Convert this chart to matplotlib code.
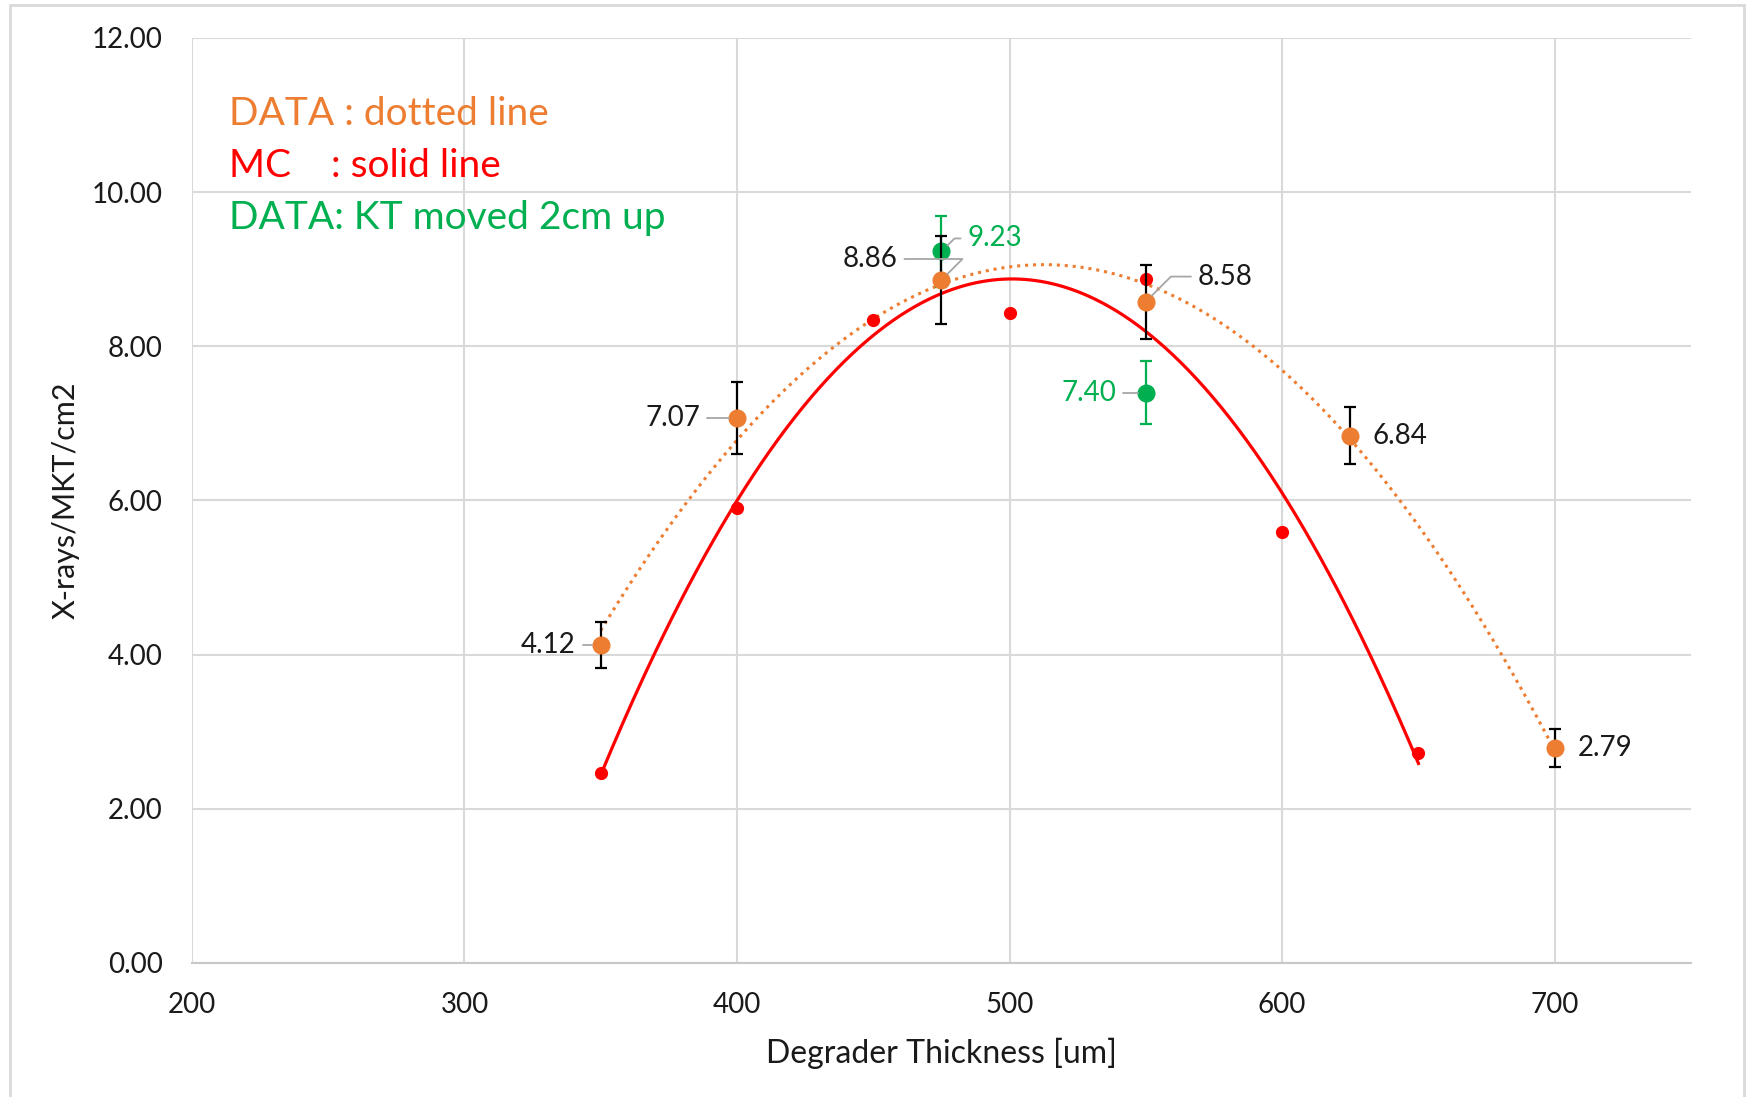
import numpy as np
import matplotlib.pyplot as plt
from matplotlib.patches import Rectangle

# Dati misurati (DATA) con errori
data_x = [350, 400, 475, 550, 625, 700]
data_y = [4.12, 7.07, 8.86, 8.58, 6.84, 2.79]
data_err = [0.30, 0.47, 0.57, 0.48, 0.37, 0.25]

# Simulazione Monte Carlo (MC)
mc_x = [350, 400, 450, 500, 550, 600, 650]
mc_y = [2.47, 5.90, 8.34, 8.43, 8.87, 5.59, 2.73]

# DATA con KT spostato di 2cm
kt_x = [475, 550]
kt_y = [9.23, 7.40]
kt_err = [0.46, 0.41]

# posizione delle etichette (offset in pixel) e leader line
label_offsets = [(-25, 0), (-37, 0), (-44, 21), (52, 25), (22, 0), (23, 0)]
label_leader = [True, True, True, True, False, False]
kt_offsets = [(26, 13), (-30, 0)]

ORANGE = '#ED7D31'
RED = '#FF0000'
GREEN = '#00B050'
GRID = '#D9D9D9'
TXT = '#1a1a1a'

plt.rcParams['font.family'] = ['Lato', 'DejaVu Sans']

fig = plt.figure(figsize=(17.48, 10.97), dpi=100)
ax = fig.add_axes([0.1098, 0.1222, 0.8576, 0.8432])

# bordo esterno del grafico
fig.patches.append(Rectangle((0.0057, -0.02), 0.9920, 1.0154, transform=fig.transFigure,
                             fill=False, edgecolor=GRID, linewidth=2))

ax.set_xlim(200, 750)
ax.set_ylim(0, 12)
ax.set_xticks(range(200, 701, 100))
ax.set_yticks(range(0, 13, 2))
ax.set_yticklabels([f'{v:.2f}' for v in range(0, 13, 2)])
ax.grid(True, color=GRID, linewidth=1.5, zorder=0)
for s in ['top', 'right', 'left']:
    ax.spines[s].set_visible(False)
ax.spines['bottom'].set_color('#C8C8C8')
ax.spines['bottom'].set_linewidth(1.5)
ax.tick_params(length=0, labelsize=20, labelcolor=TXT)
ax.tick_params(axis='y', pad=21)
ax.tick_params(axis='x', pad=21)
ax.set_axisbelow(True)

ax.set_xlabel('Degrader Thickness [um]', fontsize=23, color=TXT, labelpad=14)
ax.set_ylabel('X-rays/MKT/cm2', fontsize=22, color=TXT, labelpad=9)

# trendline polinomiali (ordine 2)
xs = np.linspace(min(mc_x), max(mc_x), 300)
ax.plot(xs, np.polyval(np.polyfit(mc_x, mc_y, 2), xs), color=RED, lw=2.3, zorder=3)
xs = np.linspace(min(data_x), max(data_x), 300)
ax.plot(xs, np.polyval(np.polyfit(data_x, data_y, 2), xs), color=ORANGE, lw=2.2,
        linestyle=(0, (1, 1.6)), zorder=3)

ax.plot(mc_x, mc_y, 'o', color=RED, markersize=8.5, zorder=5)
ax.errorbar(kt_x, kt_y, yerr=kt_err, fmt='o', color=GREEN, ecolor=GREEN, markersize=12,
            capsize=4.5, elinewidth=1.6, capthick=1.6, zorder=4)
ax.errorbar(data_x, data_y, yerr=data_err, fmt='o', color=ORANGE, ecolor='black', markersize=12,
            capsize=4.5, elinewidth=1.6, capthick=1.6, zorder=6)

leader = dict(arrowstyle='-', color='#A6A6A6', lw=1.3, shrinkA=3, shrinkB=6,
              connectionstyle='angle,angleA=0,angleB=45,rad=0')

for x, y, off, ld in zip(data_x, data_y, label_offsets, label_leader):
    ha = 'right' if off[0] < 0 else 'left'
    ax.annotate(f'{y:.2f}', (x, y), xytext=off, textcoords='offset pixels', ha=ha, va='center',
                fontsize=20, color=TXT, zorder=7, arrowprops=leader if ld else None)

for x, y, off in zip(kt_x, kt_y, kt_offsets):
    ha = 'right' if off[0] < 0 else 'left'
    ax.annotate(f'{y:.2f}', (x, y), xytext=off, textcoords='offset pixels', ha=ha, va='center',
                fontsize=20, color=GREEN, zorder=7, arrowprops=leader)

# legenda testuale
ax.text(0.025, 0.918, 'DATA : dotted line', transform=ax.transAxes, fontsize=28, color=ORANGE, va='center')
ax.text(0.025, 0.862, 'MC    : solid line', transform=ax.transAxes, fontsize=28, color=RED, va='center')
ax.text(0.025, 0.805, 'DATA: KT moved 2cm up', transform=ax.transAxes, fontsize=28, color=GREEN, va='center')

fig.savefig('out.png', dpi=100)
